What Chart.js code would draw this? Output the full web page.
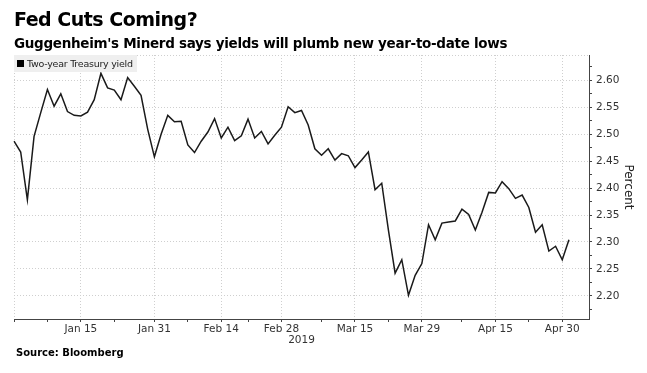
<!DOCTYPE html>
<html>
<head>
<meta charset="utf-8">
<script src="https://cdn.jsdelivr.net/npm/chart.js@4.4.1/dist/chart.umd.min.js"></script>
<style>
  body { margin: 0; background: #fff; }
  #wrap { position: relative; width: 647px; height: 373px; overflow: hidden; font-family: "DejaVu Sans", sans-serif; }
  #title { position: absolute; left: 14px; top: 8px; font-size: 19px; font-weight: bold; color: #000; letter-spacing: -0.5px; }
  #subtitle { position: absolute; left: 14px; top: 35px; font-size: 13.5px; font-weight: bold; color: #000; letter-spacing: -0.3px; }
  #legend { position: absolute; left: 14px; top: 55px; height: 17px; padding: 0 4px 0 3px; background: #efefef; font-size: 9.5px; letter-spacing: -0.25px; line-height: 17px; color: #222; }
  #legend span { display: inline-block; width: 7px; height: 7px; background: #000; margin-right: 3px; }
  #source { position: absolute; left: 16px; top: 347px; font-size: 10px; font-weight: bold; color: #000; }
  canvas { position: absolute; left: 0; top: 0; }
</style>
</head>
<body>
<div id="wrap">
  <canvas id="myChart" width="647" height="373"></canvas>
  <div id="title">Fed Cuts Coming?</div>
  <div id="subtitle">Guggenheim's Minerd says yields will plumb new year-to-date lows</div>
  <div id="legend"><span></span>Two-year Treasury yield</div>
  <div id="source">Source: Bloomberg</div>
</div>
<script>
// business days, Dec 31 2018 .. May 6 2019 (holidays skipped)
const dates = [
  'Dec 31','Jan 2','Jan 3','Jan 4','Jan 7','Jan 8','Jan 9','Jan 10','Jan 11','Jan 14',
  'Jan 15','Jan 16','Jan 17','Jan 18','Jan 22','Jan 23','Jan 24','Jan 25','Jan 28','Jan 29',
  'Jan 30','Jan 31','Feb 1','Feb 4','Feb 5','Feb 6','Feb 7','Feb 8','Feb 11','Feb 12',
  'Feb 13','Feb 14','Feb 15','Feb 19','Feb 20','Feb 21','Feb 22','Feb 25','Feb 26','Feb 27',
  'Feb 28','Mar 1','Mar 4','Mar 5','Mar 6','Mar 7','Mar 8','Mar 11','Mar 12','Mar 13',
  'Mar 14','Mar 15','Mar 18','Mar 19','Mar 20','Mar 21','Mar 22','Mar 25','Mar 26','Mar 27',
  'Mar 28','Mar 29','Apr 1','Apr 2','Apr 3','Apr 4','Apr 5','Apr 8','Apr 9','Apr 10',
  'Apr 11','Apr 12','Apr 15','Apr 16','Apr 17','Apr 18','Apr 22','Apr 23','Apr 24','Apr 25',
  'Apr 26','Apr 29','Apr 30','May 1','May 2','May 3','May 6'
];

// two-year Treasury yield, percent
const yields = [
  2.487, 2.467, 2.378, 2.496, 2.540, 2.583, 2.552, 2.575, 2.542, 2.535,
  2.534, 2.541, 2.564, 2.613, 2.586, 2.582, 2.564, 2.605, 2.589, 2.572,
  2.509, 2.458, 2.500, 2.535, 2.523, 2.524, 2.480, 2.466, 2.487, 2.504,
  2.529, 2.493, 2.513, 2.488, 2.497, 2.528, 2.493, 2.505, 2.482, 2.498,
  2.513, 2.551, 2.540, 2.544, 2.517, 2.473, 2.461, 2.473, 2.452, 2.464,
  2.460, 2.438, 2.452, 2.467, 2.397, 2.409, 2.322, 2.242, 2.267, 2.201,
  2.238, 2.260, 2.332, 2.304, 2.335, 2.337, 2.339, 2.361, 2.351, 2.322,
  2.355, 2.392, 2.391, 2.412, 2.399, 2.381, 2.387, 2.364, 2.318, 2.332,
  2.283, 2.292, 2.267, 2.304
];

const xTickLabels = ['Jan 15','Jan 31','Feb 14','Feb 28','Mar 15','Mar 29','Apr 15','Apr 30'];
const xMinorTicks = ['Dec 31','Jan 8','Jan 23','Feb 7','Feb 21','Mar 8','Mar 22','Apr 8','Apr 23'];

const yTickLabels = [2.20, 2.25, 2.30, 2.35, 2.40, 2.45, 2.50, 2.55, 2.60];
const yMinorTicks = [2.175, 2.225, 2.275, 2.325, 2.375, 2.425, 2.475, 2.525, 2.575, 2.625];
const yMin = 2.157;
const yMax = 2.647;

const gridColor = '#cfcfcf';
const axisColor = '#444';
const isMajorY = (v) => yTickLabels.some(t => Math.abs(t - v) < 1e-6);

const ctx = document.getElementById('myChart').getContext('2d');
const myChart = new Chart(ctx, {
  type: 'line',
  data: {
    labels: dates,
    datasets: [{
      label: 'Two-year Treasury yield',
      data: yields,
      borderColor: '#1a1a1a',
      borderWidth: 1.5,
      pointRadius: 0,
      tension: 0,
      fill: false
    }]
  },
  options: {
    responsive: false,
    animation: false,
    layout: { padding: { left: 14, top: 55, right: 10, bottom: 26 } },
    plugins: { legend: { display: false }, tooltip: { enabled: false } },
    scales: {
      x: {
        type: 'category',
        offset: false,
        afterFit: (s) => { s.height = 28; },
        border: { display: true, color: axisColor, width: 1, dash: [1, 2] },
        grid: {
          tickLength: 3,
          color: (c) => {
            const l = dates[c.index];
            return (xTickLabels.includes(l) || c.index === 0) ? gridColor : 'rgba(0,0,0,0)';
          },
          tickColor: (c) => {
            const l = dates[c.index];
            return (xTickLabels.includes(l) || xMinorTicks.includes(l)) ? axisColor : 'rgba(0,0,0,0)';
          }
        },
        ticks: {
          autoSkip: false,
          maxRotation: 0,
          padding: 1,
          color: '#333',
          font: { family: 'DejaVu Sans', size: 10.5 },
          callback: function (v) {
            const l = this.getLabelForValue(v);
            return xTickLabels.includes(l) ? l : '';
          }
        },
        title: {
          display: true,
          text: '2019',
          color: '#333',
          padding: 0,
          font: { family: 'DejaVu Sans', size: 10.5 }
        }
      },
      y: {
        position: 'right',
        min: yMin,
        max: yMax,
        afterFit: (s) => { s.width = 48; },
        afterBuildTicks: (s) => {
          s.ticks = yTickLabels.concat(yMinorTicks, [yMax]).sort((a, b) => a - b).map(v => ({ value: v }));
        },
        border: { display: true, color: axisColor, width: 1, dash: [1, 2] },
        grid: {
          tickLength: 3,
          color: (c) => {
            const v = c.tick ? c.tick.value : null;
            return (v !== null && (isMajorY(v) || v === yMax)) ? gridColor : 'rgba(0,0,0,0)';
          },
          tickColor: (c) => (c.tick && c.tick.value === yMax) ? 'rgba(0,0,0,0)' : axisColor
        },
        ticks: {
          autoSkip: false,
          padding: 4,
          color: '#333',
          font: { family: 'DejaVu Sans', size: 10.5 },
          callback: (v) => isMajorY(v) ? v.toFixed(2) : ''
        },
        title: {
          display: true,
          text: 'Percent',
          color: '#222',
          padding: { top: 2, bottom: 0 },
          font: { family: 'DejaVu Sans', size: 12 }
        }
      }
    }
  }
});
</script>
</body>
</html>
